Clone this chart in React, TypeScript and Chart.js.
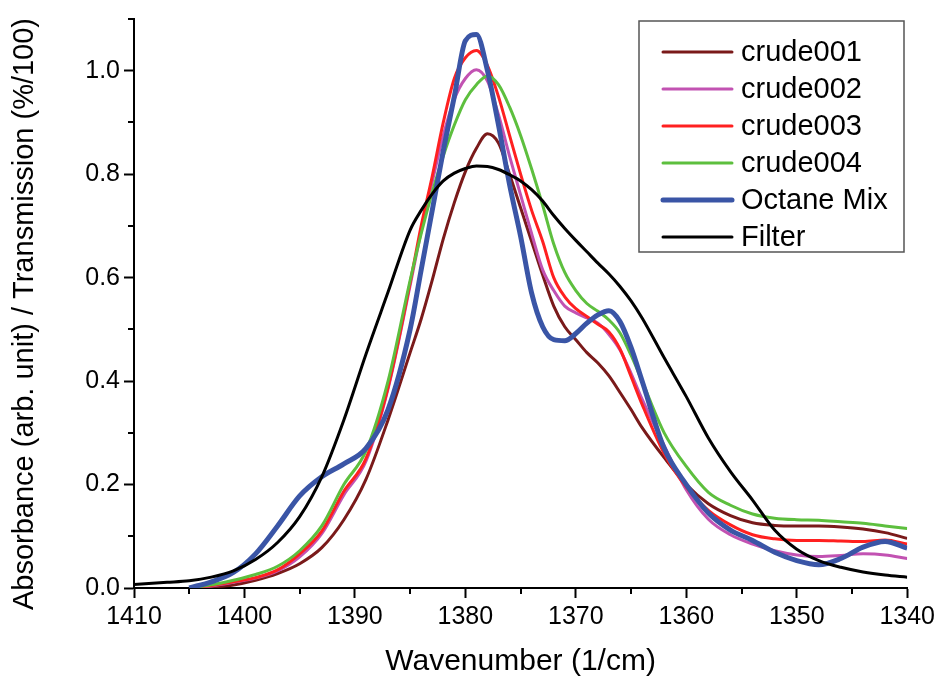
import React, { useEffect, useRef } from "react";
import { Chart, registerables } from "chart.js";

Chart.register(...registerables);

const WAVENUMBERS = [
  1410, 1407, 1405, 1403, 1401, 1399, 1397, 1395, 1393, 1391, 1389, 1387, 1385, 1384, 1383, 1382,
  1381, 1380, 1379, 1378, 1377, 1376, 1375, 1374, 1373, 1372, 1371, 1370, 1369, 1368, 1367, 1366,
  1365, 1364, 1362, 1360, 1358, 1356, 1354, 1352, 1350, 1348, 1346, 1344, 1342, 1340,
];

const CRUDE001 = [
  null, null, 0, 0.002, 0.006, 0.015, 0.028, 0.047, 0.078, 0.132, 0.21, 0.325, 0.455, 0.52, 0.595, 0.675,
  0.745, 0.805, 0.85, 0.878, 0.86, 0.8, 0.735, 0.67, 0.605, 0.545, 0.505, 0.48, 0.455, 0.435, 0.41, 0.378,
  0.345, 0.31, 0.252, 0.2, 0.163, 0.14, 0.126, 0.121, 0.12, 0.12, 0.118, 0.114, 0.107, 0.096,
];

const CRUDE002 = [
  null, null, 0, 0.004, 0.011, 0.019, 0.033, 0.06, 0.105, 0.18, 0.245, 0.385, 0.585, 0.69, 0.785, 0.875,
  0.945, 0.985, 1.002, 0.98, 0.915, 0.835, 0.76, 0.685, 0.615, 0.575, 0.545, 0.532, 0.522, 0.512, 0.49, 0.46,
  0.415, 0.365, 0.275, 0.19, 0.133, 0.103, 0.085, 0.072, 0.064, 0.061, 0.063, 0.066, 0.064, 0.057,
];

const CRUDE003 = [
  null, null, 0, 0.005, 0.012, 0.02, 0.035, 0.066, 0.11, 0.187, 0.25, 0.388, 0.59, 0.7, 0.796, 0.9,
  0.985, 1.025, 1.039, 1.01, 0.95, 0.875, 0.8, 0.73, 0.67, 0.6, 0.563, 0.54, 0.525, 0.51, 0.495, 0.462,
  0.409, 0.355, 0.26, 0.195, 0.15, 0.122, 0.103, 0.095, 0.092, 0.092, 0.091, 0.09, 0.093, 0.085,
];

const CRUDE004 = [
  null, null, 0, 0.006, 0.015, 0.026, 0.042, 0.072, 0.12, 0.2, 0.265, 0.4, 0.595, 0.685, 0.765, 0.835,
  0.895, 0.944, 0.973, 0.99, 0.973, 0.93, 0.875, 0.81, 0.74, 0.665, 0.61, 0.575, 0.55, 0.535, 0.518, 0.493,
  0.45, 0.4, 0.3, 0.235, 0.185, 0.16, 0.143, 0.135, 0.132, 0.131, 0.128, 0.125, 0.12, 0.115,
];

const OCTANE_MIX = [
  null, null, 0, 0.012, 0.03, 0.066, 0.12, 0.178, 0.215, 0.24, 0.27, 0.345, 0.5, 0.615, 0.73, 0.845,
  0.95, 1.058, 1.07, 1.0, 0.895, 0.78, 0.68, 0.57, 0.505, 0.48, 0.478, 0.492, 0.512, 0.528, 0.536, 0.515,
  0.465, 0.4, 0.27, 0.2, 0.145, 0.112, 0.092, 0.069, 0.053, 0.045, 0.057, 0.079, 0.09, 0.077,
];

const FILTER = [
  0.007, 0.011, 0.014, 0.021, 0.033, 0.055, 0.088, 0.138, 0.215, 0.325, 0.452, 0.572, 0.692, 0.73, 0.762, 0.787,
  0.802, 0.811, 0.816, 0.815, 0.809, 0.799, 0.787, 0.77, 0.748, 0.72, 0.695, 0.672, 0.65, 0.628, 0.607, 0.583,
  0.555, 0.522, 0.445, 0.37, 0.29, 0.225, 0.17, 0.112, 0.075, 0.053, 0.04, 0.031, 0.025, 0.021,
];

const SERIES_NAMES = ["crude001", "crude002", "crude003", "crude004", "Octane Mix", "Filter"];
const SERIES_VALUES = [CRUDE001, CRUDE002, CRUDE003, CRUDE004, OCTANE_MIX, FILTER];
const SERIES_COLORS = ["#7a1a1a", "#c252b2", "#ff2020", "#5dbf3e", "#3a55a6", "#000000"];
const SERIES_WIDTHS = [3, 3, 3, 3, 5, 3];
const SERIES_ORDER = [5, 4, 3, 2, 1, 0];

const X_TICKS = [1410, 1400, 1390, 1380, 1370, 1360, 1350, 1340];
const X_MINOR_TICKS = [1405, 1395, 1385, 1375, 1365, 1355, 1345];
const Y_TICKS = [0, 0.2, 0.4, 0.6, 0.8, 1.0];
const Y_MINOR_TICKS = [0.1, 0.3, 0.5, 0.7, 0.9, 1.1];

const X_TITLE = "Wavenumber (1/cm)";
const Y_TITLE = "Absorbance (arb. unit) / Transmission (%/100)";

const FONT = "'Liberation Sans', Arial, sans-serif";

const minorTicksPlugin = {
  id: "minorTicks",
  afterDraw(chart: any) {
    const { ctx } = chart;
    const xs = chart.scales.x;
    const ys = chart.scales.y;
    ctx.save();
    ctx.strokeStyle = "#000";
    ctx.lineWidth = 2;
    ctx.beginPath();
    X_MINOR_TICKS.forEach((v) => {
      const px = Math.round(xs.getPixelForValue(v));
      ctx.moveTo(px, ys.bottom);
      ctx.lineTo(px, ys.bottom + 6);
    });
    Y_MINOR_TICKS.forEach((v) => {
      const py = Math.round(ys.getPixelForValue(v));
      ctx.moveTo(xs.left, py);
      ctx.lineTo(xs.left - 6, py);
    });
    ctx.stroke();
    ctx.restore();
  },
};

const yTitlePlugin = {
  id: "yTitle",
  afterDraw(chart: any) {
    const { ctx } = chart;
    ctx.save();
    ctx.translate(25, 314);
    ctx.rotate(-Math.PI / 2);
    ctx.font = `29px ${FONT}`;
    ctx.fillStyle = "#000";
    ctx.textAlign = "center";
    ctx.textBaseline = "middle";
    ctx.fillText(Y_TITLE, 0, 0);
    ctx.restore();
  },
};

const boxLegendPlugin = {
  id: "boxLegend",
  afterDraw(chart: any) {
    const { ctx } = chart;
    const left = 639;
    const top = 21;
    const width = 265;
    const height = 231;
    ctx.save();
    ctx.fillStyle = "#fff";
    ctx.fillRect(left, top, width, height);
    ctx.strokeStyle = "#555";
    ctx.lineWidth = 1.5;
    ctx.strokeRect(left, top, width, height);
    ctx.font = `29px ${FONT}`;
    ctx.textBaseline = "middle";
    ctx.textAlign = "left";
    chart.data.datasets.forEach((ds: any, i: number) => {
      const cy = top + 31 + i * 37;
      ctx.strokeStyle = ds.borderColor;
      ctx.lineWidth = ds.borderWidth;
      ctx.lineCap = "round";
      ctx.beginPath();
      ctx.moveTo(left + 24, cy);
      ctx.lineTo(left + 93, cy);
      ctx.stroke();
      ctx.fillStyle = "#000";
      ctx.fillText(ds.label, left + 102, cy + 1);
    });
    ctx.restore();
  },
};

export default function App() {
  const canvasRef = useRef<HTMLCanvasElement | null>(null);

  useEffect(() => {
    if (!canvasRef.current) return;
    const datasets = SERIES_NAMES.map((name, i) => ({
      label: name,
      data: WAVENUMBERS.map((w, j) => ({ x: w, y: SERIES_VALUES[i][j] })),
      borderColor: SERIES_COLORS[i],
      backgroundColor: SERIES_COLORS[i],
      borderWidth: SERIES_WIDTHS[i],
      pointRadius: 0,
      cubicInterpolationMode: "monotone" as const,
      fill: false,
      order: SERIES_ORDER[i],
      spanGaps: false,
    }));

    const chart = new Chart(canvasRef.current, {
      type: "line",
      data: { datasets },
      options: {
        animation: false,
        responsive: true,
        maintainAspectRatio: false,
        layout: { padding: { left: 0, right: 29, top: 19, bottom: 0 } },
        plugins: {
          legend: { display: false },
          tooltip: { enabled: false },
        },
        scales: {
          x: {
            type: "linear",
            reverse: true,
            min: 1340,
            max: 1410,
            afterBuildTicks: (scale: any) => {
              scale.ticks = X_TICKS.map((v) => ({ value: v }));
            },
            afterFit: (scale: any) => {
              scale.height = 93;
            },
            ticks: {
              color: "#000",
              font: { family: FONT, size: 25 },
              padding: 4,
              maxRotation: 0,
              autoSkip: false,
              callback: (v: any) => String(v),
            },
            grid: {
              display: true,
              drawOnChartArea: false,
              drawTicks: true,
              tickLength: 10,
              tickWidth: 2,
              tickColor: "#000",
            },
            border: { display: true, color: "#000", width: 2 },
            title: {
              display: true,
              text: X_TITLE,
              color: "#000",
              font: { family: FONT, size: 30 },
              padding: { top: 0, bottom: 1 },
            },
          },
          y: {
            type: "linear",
            min: 0,
            max: 1.1,
            afterBuildTicks: (scale: any) => {
              scale.ticks = Y_TICKS.map((v) => ({ value: v }));
            },
            afterFit: (scale: any) => {
              scale.width = 134;
            },
            ticks: {
              color: "#000",
              font: { family: FONT, size: 25 },
              padding: 4,
              autoSkip: false,
              callback: (v: any) => Number(v).toFixed(1),
            },
            grid: {
              display: true,
              drawOnChartArea: false,
              drawTicks: true,
              tickLength: 10,
              tickWidth: 2,
              tickColor: "#000",
            },
            border: { display: true, color: "#000", width: 2 },
            title: { display: false },
          },
        },
      },
      plugins: [minorTicksPlugin, yTitlePlugin, boxLegendPlugin],
    });
    return () => chart.destroy();
  }, []);

  return (
    <div style={{ position: "fixed", left: 0, top: 0, width: 939, height: 681, background: "#fff" }}>
      <canvas ref={canvasRef} />
    </div>
  );
}
